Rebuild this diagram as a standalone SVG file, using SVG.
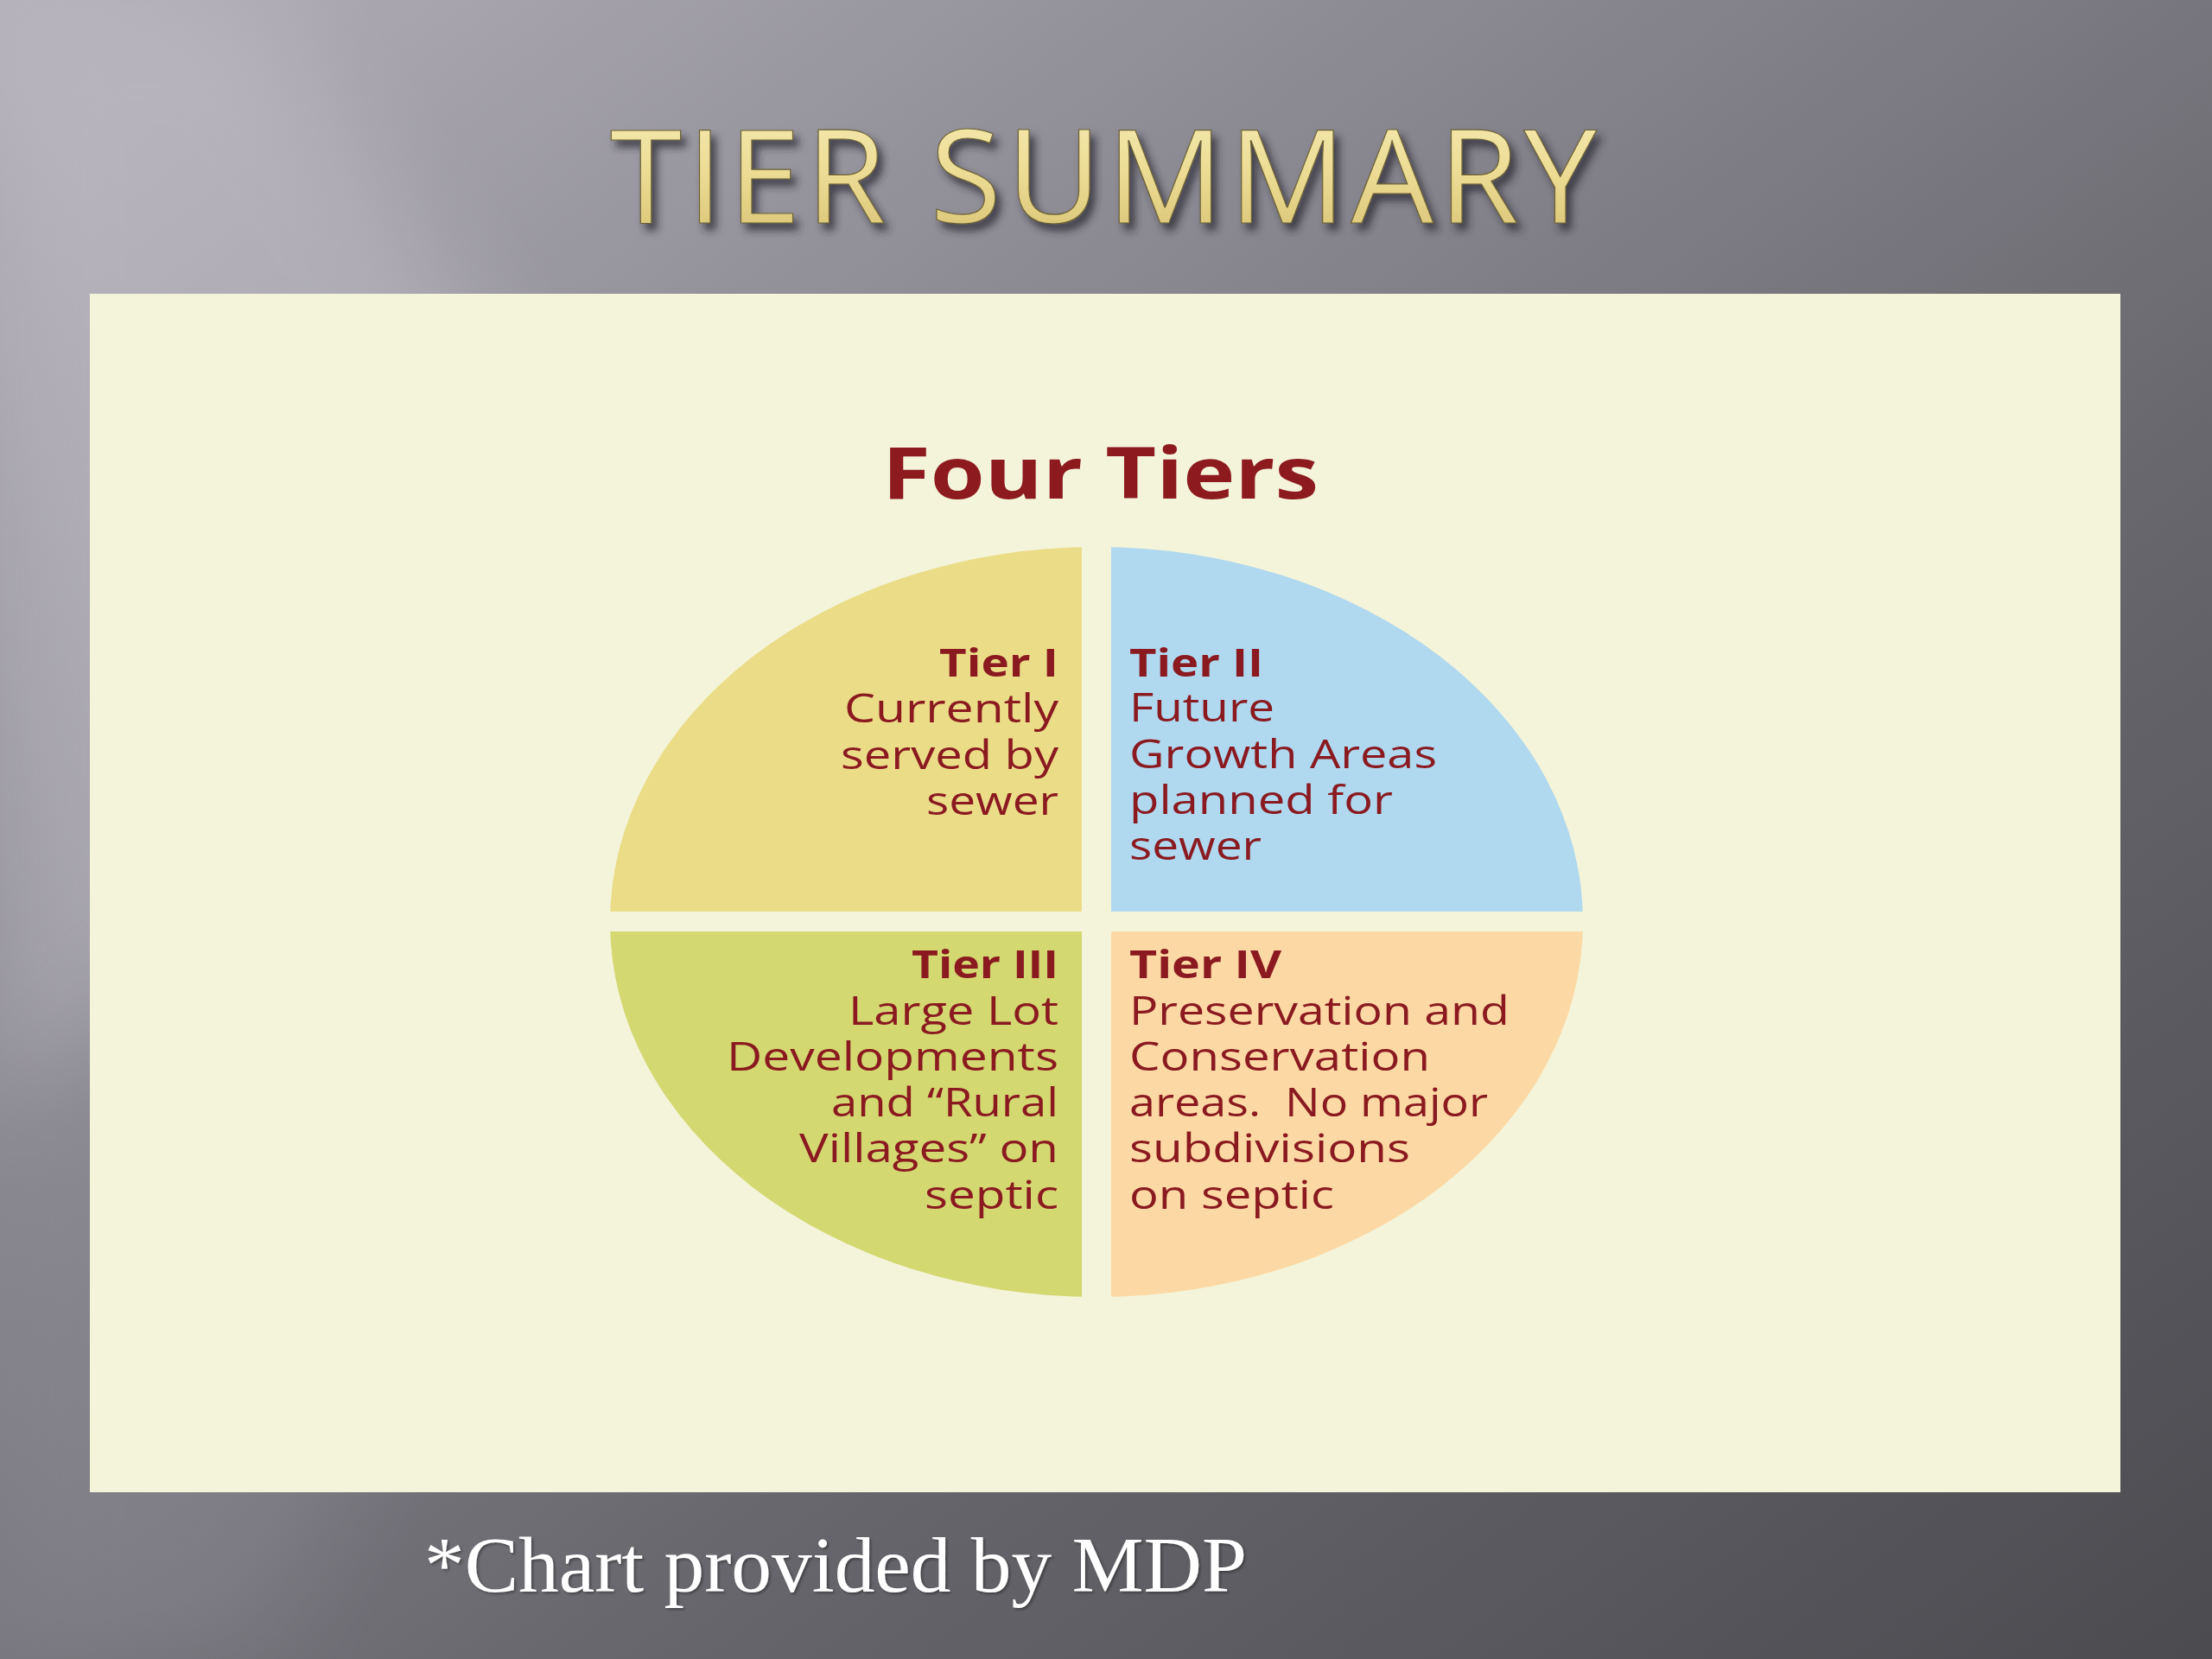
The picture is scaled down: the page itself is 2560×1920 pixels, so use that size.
<svg xmlns="http://www.w3.org/2000/svg" width="2560" height="1920" viewBox="0 0 2560 1920">
<defs>
<linearGradient id="bg" x1="0" y1="0" x2="1" y2="1">
<stop offset="0" stop-color="#b3b0ba"/>
<stop offset="0.3" stop-color="#8e8c95"/>
<stop offset="0.65" stop-color="#66656b"/>
<stop offset="1" stop-color="#4c4b50"/>
</linearGradient>
<linearGradient id="gold" x1="0" y1="0" x2="0" y2="1">
<stop offset="0" stop-color="#f8efba"/>
<stop offset="0.5" stop-color="#ecdc94"/>
<stop offset="1" stop-color="#d3bd6c"/>
</linearGradient>
<filter id="blur60" x="-50%" y="-50%" width="200%" height="200%"><feGaussianBlur stdDeviation="60"/></filter>
<filter id="shadow" x="-10%" y="-30%" width="120%" height="160%"><feDropShadow dx="6" dy="8" stdDeviation="5" flood-color="#2a2a30" flood-opacity="0.75"/></filter>
<filter id="soft" x="-5%" y="-20%" width="110%" height="140%"><feDropShadow dx="2" dy="2" stdDeviation="1.5" flood-color="#000" flood-opacity="0.35"/></filter>
<clipPath id="oval"><ellipse cx="1269" cy="1067" rx="563" ry="434"/></clipPath>
<style>
.title{font-family:"Open Sans","Liberation Sans",sans-serif;font-size:151px;fill:url(#gold);stroke:#6e6236;stroke-width:1.2}
.four{font-family:"Open Sans","Liberation Sans",sans-serif;font-weight:700;font-size:83px;fill:#8c1a1f}
.tx{font-family:"Open Sans","Liberation Sans",sans-serif;font-size:45px;fill:#8a1a20}
.hd{font-weight:700}
.end{text-anchor:end}
.foot{font-family:"Liberation Serif","DejaVu Serif",serif;font-size:90px;fill:#ffffff}
</style>
</defs>
<g id="background">
<rect x="0" y="0" width="2560" height="1920" fill="url(#bg)"/>
<polygon points="0,0 300,0 700,600 250,1100 0,1300" fill="#c4c1cb" opacity="0.45" filter="url(#blur60)"/>
<polygon points="0,1300 200,1100 500,1500 300,1920 0,1920" fill="#8f8d95" opacity="0.35" filter="url(#blur60)"/>
</g>
<g id="title">
<text class="title" x="1277" y="258" text-anchor="middle" textLength="1142" lengthAdjust="spacing" filter="url(#shadow)">TIER SUMMARY</text>
</g>
<g id="panel">
<rect x="104" y="340" width="2350" height="1387" fill="#f4f4da"/>
</g>
<g id="chart-title">
<text class="four" x="1021" y="577" textLength="505" lengthAdjust="spacingAndGlyphs">Four Tiers</text>
</g>
<g id="tier1">
<rect x="700" y="620" width="552" height="435" fill="#ebdc88" clip-path="url(#oval)"/>
<text class="tx hd end" x="1225" y="783" textLength="138" lengthAdjust="spacingAndGlyphs">Tier I</text>
<text class="tx end" x="1225" y="836" textLength="248" lengthAdjust="spacingAndGlyphs">Currently</text>
<text class="tx end" x="1225" y="890" textLength="252" lengthAdjust="spacingAndGlyphs">served by</text>
<text class="tx end" x="1225" y="943" textLength="153" lengthAdjust="spacingAndGlyphs">sewer</text>
</g>
<g id="tier2">
<rect x="1286" y="620" width="552" height="435" fill="#b0d8ef" clip-path="url(#oval)"/>
<text class="tx hd" x="1307" y="783" textLength="155" lengthAdjust="spacingAndGlyphs">Tier II</text>
<text class="tx" x="1307" y="835" textLength="168" lengthAdjust="spacingAndGlyphs">Future</text>
<text class="tx" x="1307" y="889" textLength="356" lengthAdjust="spacingAndGlyphs">Growth Areas</text>
<text class="tx" x="1307" y="942" textLength="305" lengthAdjust="spacingAndGlyphs">planned for</text>
<text class="tx" x="1307" y="995" textLength="153" lengthAdjust="spacingAndGlyphs">sewer</text>
</g>
<g id="tier3">
<rect x="700" y="1078" width="552" height="430" fill="#d4d871" clip-path="url(#oval)"/>
<text class="tx hd end" x="1225" y="1132" textLength="170" lengthAdjust="spacingAndGlyphs">Tier III</text>
<text class="tx end" x="1225" y="1186" textLength="243" lengthAdjust="spacingAndGlyphs">Large Lot</text>
<text class="tx end" x="1225" y="1239" textLength="384" lengthAdjust="spacingAndGlyphs">Developments</text>
<text class="tx end" x="1225" y="1292" textLength="263" lengthAdjust="spacingAndGlyphs">and “Rural</text>
<text class="tx end" x="1225" y="1345" textLength="300" lengthAdjust="spacingAndGlyphs">Villages” on</text>
<text class="tx end" x="1225" y="1399" textLength="155" lengthAdjust="spacingAndGlyphs">septic</text>
</g>
<g id="tier4">
<rect x="1286" y="1078" width="552" height="430" fill="#fcd9a4" clip-path="url(#oval)"/>
<text class="tx hd" x="1307" y="1132" textLength="176" lengthAdjust="spacingAndGlyphs">Tier IV</text>
<text class="tx" x="1307" y="1186" textLength="440" lengthAdjust="spacingAndGlyphs">Preservation and</text>
<text class="tx" x="1307" y="1239" textLength="348" lengthAdjust="spacingAndGlyphs">Conservation</text>
<text class="tx" x="1307" y="1292" textLength="415" lengthAdjust="spacingAndGlyphs" xml:space="preserve">areas.  No major</text>
<text class="tx" x="1307" y="1345" textLength="325" lengthAdjust="spacingAndGlyphs">subdivisions</text>
<text class="tx" x="1307" y="1399" textLength="237" lengthAdjust="spacingAndGlyphs">on septic</text>
</g>
<g id="connectors"/>
<g id="footer">
<text class="foot" x="491" y="1842" textLength="952" lengthAdjust="spacingAndGlyphs" filter="url(#soft)">*Chart provided by MDP</text>
</g>
</svg>
